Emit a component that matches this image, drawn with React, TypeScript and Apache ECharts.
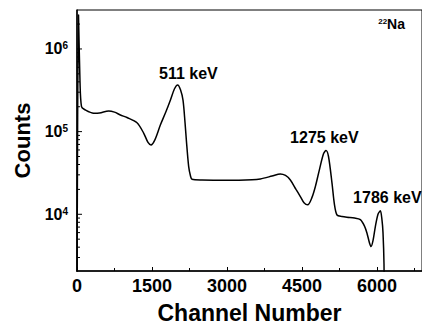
import React, { useEffect, useRef } from "react";
import * as echarts from "echarts";

const channels = [0, 30, 60, 90, 150, 333, 450, 633, 750, 867, 1000, 1200, 1333, 1420, 1480, 1560, 1667, 1780, 1867, 1950, 2013, 2070, 2120, 2160, 2187, 2233, 2270, 2300, 2500, 3000, 3500, 3667, 3900, 4067, 4170, 4267, 4380, 4467, 4540, 4613, 4700, 4767, 4850, 4930, 4980, 5030, 5100, 5150, 5200, 5300, 5400, 5550, 5667, 5750, 5800, 5850, 5880, 5920, 5967, 6020, 6067, 6100, 6120, 6140, 6150];
const counts = [800, 2.6e6, 4e5, 2.0e5, 1.85e5, 1.67e5, 1.68e5, 1.78e5, 1.72e5, 1.59e5, 1.48e5, 1.28e5, 9.6e4, 7.4e4, 6.9e4, 8.0e4, 1.2e5, 1.75e5, 2.4e5, 3.3e5, 3.67e5, 3.2e5, 2.4e5, 1.3e5, 7.9e4, 3.8e4, 2.9e4, 2.65e4, 2.6e4, 2.58e4, 2.62e4, 2.68e4, 2.9e4, 3.08e4, 2.95e4, 2.6e4, 2.0e4, 1.64e4, 1.38e4, 1.3e4, 1.6e4, 2.16e4, 3.5e4, 5.4e4, 5.9e4, 5.0e4, 2.38e4, 1.3e4, 9.8e3, 9.4e3, 9.2e3, 9.0e3, 8.6e3, 7.2e3, 5.9e3, 4.5e3, 4.07e3, 4.8e3, 7.1e3, 1.0e4, 1.1e4, 8.5e3, 6e3, 2500, 500];

const yMajorTicks = [1e4, 1e5, 1e6];
const yMinorTicks = [3e3, 4e3, 5e3, 6e3, 7e3, 8e3, 9e3, 2e4, 3e4, 4e4, 5e4, 6e4, 7e4, 8e4, 9e4, 2e5, 3e5, 4e5, 5e5, 6e5, 7e5, 8e5, 9e5, 2e6];

const peakLabels = ["511 keV", "1275 keV", "1786 keV"];
const peakChannels = [2227, 4947, 6207];
const peakCounts = [5.1e5, 8.6e4, 1.58e4];

const FONT = "Liberation Sans, Arial, sans-serif";

export default function App() {
  const ref = useRef<HTMLDivElement>(null);
  useEffect(() => {
    const chart = echarts.init(ref.current!, null, { renderer: "svg" });
    const tickSeries = (vals: number[], len: number) => ({
      type: "custom",
      coordinateSystem: "cartesian2d",
      silent: true,
      clip: false,
      data: vals.map((v) => [0, v]),
      renderItem: (params: any, api: any) => {
        const p = api.coord([api.value(0), api.value(1)]);
        return {
          type: "line",
          shape: { x1: p[0], y1: p[1], x2: p[0] + len, y2: p[1] },
          style: { stroke: "#000", lineWidth: 1 },
        };
      },
    });
    chart.setOption({
      animation: false,
      grid: { left: 77, top: 10, bottom: 54, right: 0, show: true, borderColor: "#000", borderWidth: 1, outerBoundsMode: "none", containLabel: false },
      xAxis: {
        type: "value",
        min: 0,
        max: 6900,
        interval: 1500,
        name: "Channel Number",
        nameLocation: "middle",
        nameGap: 30,
        nameTextStyle: { fontFamily: FONT, fontWeight: "bold", fontSize: 23, color: "#000" },
        axisLine: { show: true, lineStyle: { color: "#000", width: 1.5 } },
        axisTick: { show: true, inside: true, length: 4, lineStyle: { color: "#000" } },
        minorTick: { show: true, splitNumber: 2, length: 3, lineStyle: { color: "#000" } },
        splitLine: { show: false },
        axisLabel: { fontFamily: FONT, fontWeight: "bold", fontSize: 18, color: "#000", margin: 6, showMaxLabel: false, formatter: (v: number) => String(v) },
      },
      yAxis: {
        type: "log",
        min: 2060,
        max: 2.96e6,
        name: "Counts",
        nameLocation: "middle",
        nameGap: 42,
        nameTextStyle: { fontFamily: FONT, fontWeight: "bold", fontSize: 22, color: "#000" },
        axisLine: { show: true, lineStyle: { color: "#000", width: 1.5 } },
        axisTick: { show: false },
        splitLine: { show: false },
        axisLabel: {
          margin: 9,
          formatter: (v: number) => {
            const l = Math.log10(v);
            const e = Math.round(l);
            if (Math.abs(l - e) > 1e-6) return "";
            return `{b|10}{s|${e}}`;
          },
          rich: {
            b: { fontFamily: FONT, fontWeight: "bold", fontSize: 16, color: "#000" },
            s: { fontFamily: FONT, fontWeight: "bold", fontSize: 10, color: "#000", verticalAlign: "top" },
          },
        },
      },
      graphic: [
        {
          type: "text",
          right: 17,
          top: 17,
          style: {
            text: "{s|22}{n|Na}",
            rich: {
              s: { fontFamily: FONT, fontWeight: "bold", fontSize: 8, fill: "#000", verticalAlign: "top" },
              n: { fontFamily: FONT, fontWeight: "bold", fontSize: 14, fill: "#000" },
            },
          },
        },
      ],
      series: [
        {
          type: "line",
          data: channels.map((c, i) => [c, counts[i]]),
          showSymbol: false,
          smooth: 0.3,
          lineStyle: { color: "#000", width: 1.5 },
          markPoint: {
            symbol: "circle",
            symbolSize: 0,
            silent: true,
            label: {
              show: true,
              position: "inside",
              fontFamily: FONT,
              fontWeight: "bold",
              fontSize: 16,
              color: "#000",
              formatter: (p: any) => p.name,
            },
            data: peakLabels.map((n, i) => ({ name: n, coord: [peakChannels[i], peakCounts[i]] })),
          },
        },
        tickSeries(yMajorTicks, 5),
        tickSeries(yMinorTicks, 3),
      ],
    });
    return () => chart.dispose();
  }, []);
  return <div ref={ref} style={{ position: "absolute", left: 0, top: 0, width: 422, height: 325 }} />;
}
